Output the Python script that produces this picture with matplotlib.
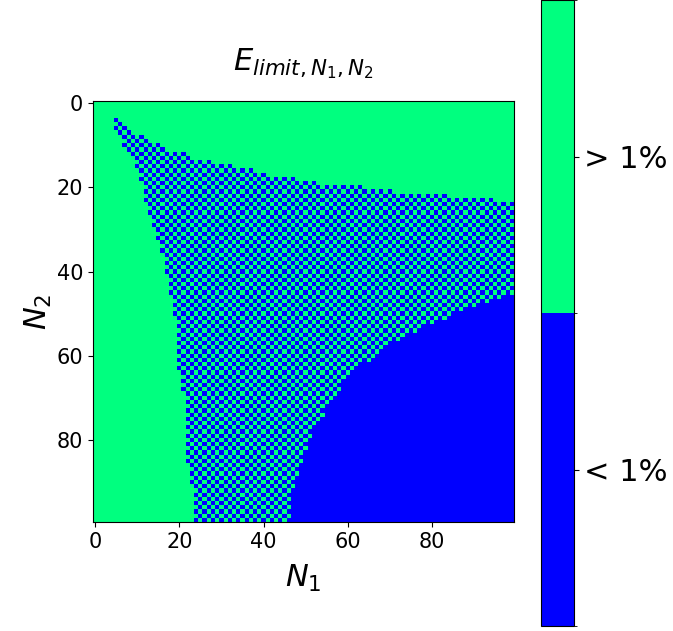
import numpy as np
import matplotlib
matplotlib.use('Agg')
import matplotlib.pyplot as plt
from matplotlib.colors import ListedColormap, BoundaryNorm

# Grid size (N1 columns x N2 rows)
n1_size = 100
n2_size = 100

# First row (N2) of the checkerboard zone for each column N1 (100 = none)
top_edge = ([100] * 4 +
            [4, 4, 5, 6, 7, 7, 8, 8, 9, 9, 10, 10, 10, 11, 12, 12, 12, 12, 13] +
            [14] * 6 + [15] * 4 + [16] * 5 + [17] * 3 + [18] * 7 +
            [19] * 6 + [20] * 10 + [21] * 7 + [22] * 14 + [23] * 11 + [24] * 4)

# First column (N1) of the checkerboard zone for each row N2 (100 = none)
left_edge = ([100] * 4 +
             [4, 5, 5, 6, 6, 7, 7, 8, 8, 9, 10, 10, 11, 11, 11, 11, 12, 12, 12,
              12, 13, 13, 13, 14, 14, 14, 15, 15, 15, 16, 16, 16, 16, 17, 17, 17,
              17, 18, 18, 18, 18, 18, 19, 19, 19, 19, 19] +
             [20] * 13 + [21] * 6 + [22] * 17 + [23] * 5 + [24] * 8)

# First column of the solid "< 1%" zone for each row N2 (100 = none)
blue_start = ([100] * 46 +
              [98, 94, 92, 89, 86, 84, 81, 79, 77, 75, 73, 71, 70, 68, 67, 66,
               64, 63, 62, 61, 60, 59, 59, 58, 57, 57, 56, 55, 55, 54, 54, 53,
               52, 52, 51, 51, 51, 50, 50, 50, 49, 49, 49, 48, 48, 48] +
              [47] * 8)

class_labels = ['< 1%', '> 1%']
class_colors = ['#0000ff', '#00ff7f']

# Build the map: 1 = above 1%, 0 = below 1%
grid = np.ones((n2_size, n1_size))
for i in range(n2_size):
    for j in range(n1_size):
        if j >= blue_start[i]:
            grid[i, j] = 0
        elif j >= left_edge[i] and i >= top_edge[j]:
            grid[i, j] = (i + j + 1) % 2

fig = plt.figure(figsize=(6.73, 6.31), dpi=100)
ax = fig.add_axes([92 / 673, 1 - 522 / 631, 423 / 673, 421 / 631])
cax = fig.add_axes([541 / 673, 5 / 631, 33 / 673, 626 / 631])

cmap = ListedColormap(class_colors)
norm = BoundaryNorm([-0.5, 0.5, 1.5], cmap.N)
im = ax.imshow(grid, cmap=cmap, norm=norm)

ax.set_title(r'$E_{limit,N_1,N_2}$', fontsize=22, pad=22)
ax.set_xlabel(r'$N_1$', fontsize=22, labelpad=8)
ax.set_ylabel(r'$N_2$', fontsize=22, labelpad=2)
ax.set_xticks([0, 20, 40, 60, 80])
ax.set_yticks([0, 20, 40, 60, 80])
ax.tick_params(labelsize=15)

cbar = fig.colorbar(im, cax=cax, ticks=[0, 1])
cbar.ax.set_yticklabels(class_labels)
cbar.ax.tick_params(labelsize=22)

plt.savefig('out.png', dpi=100)
